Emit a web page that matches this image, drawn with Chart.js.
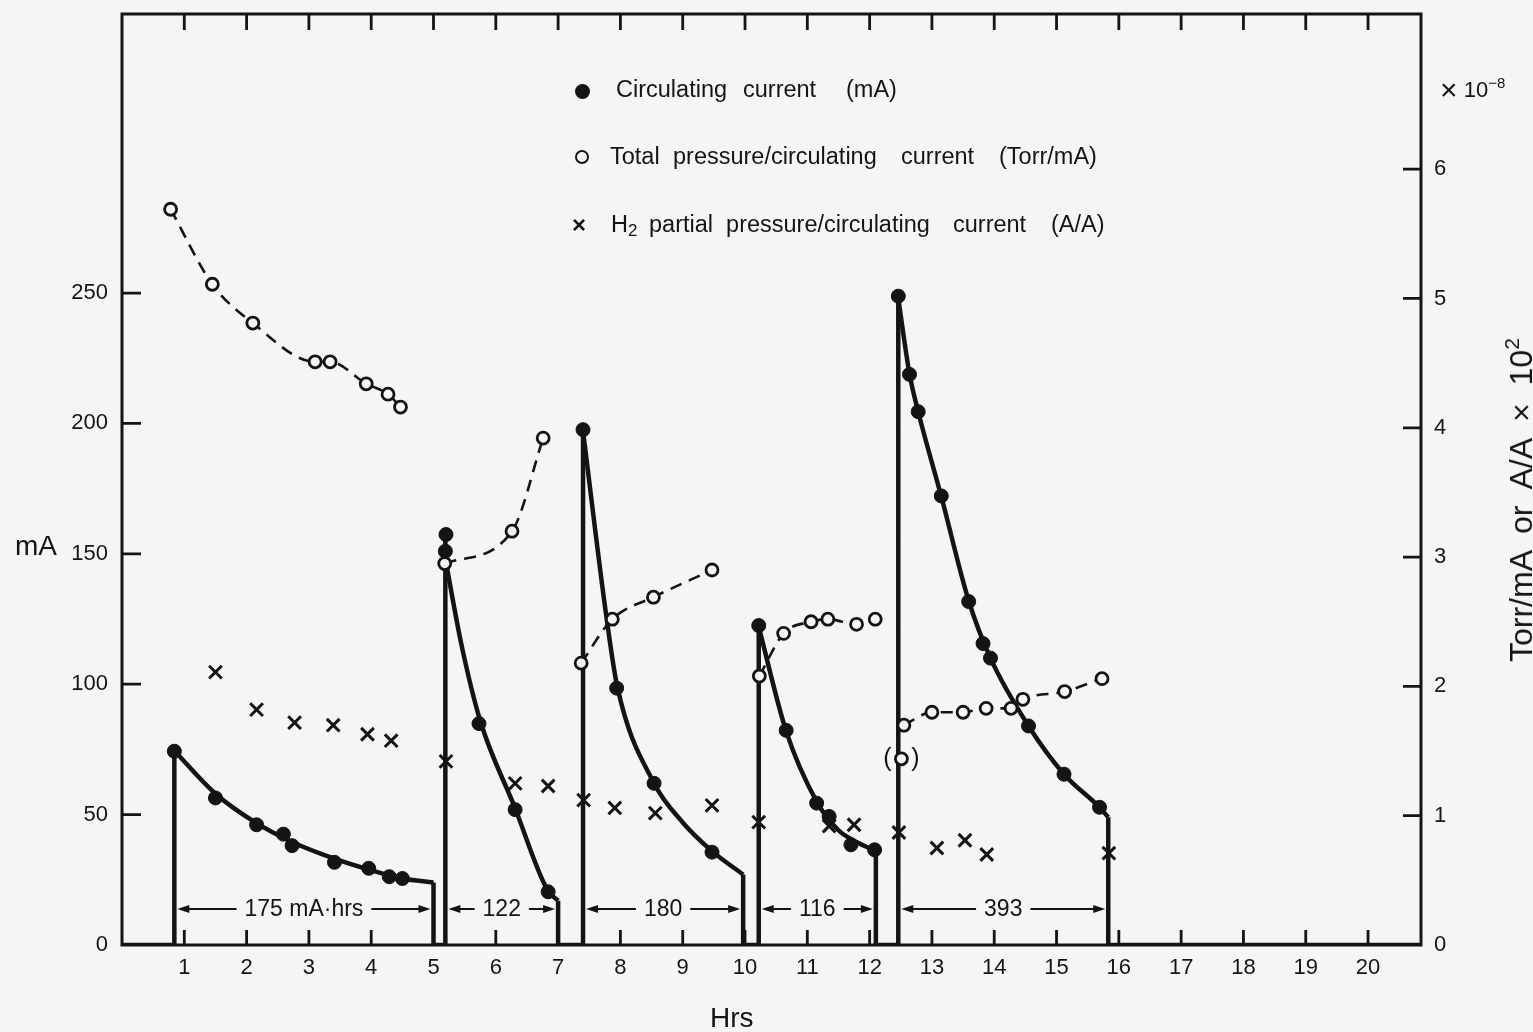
<!DOCTYPE html>
<html>
<head>
<meta charset="utf-8">
<title>Circulating current and pressure vs time</title>
<script src="https://cdn.jsdelivr.net/npm/chart.js@4/dist/chart.umd.min.js"></script>
<style>
	html, body { margin: 0; padding: 0; background: #f4f6f5; }
	#wrap { position: relative; width: 1533px; height: 1032px; overflow: hidden;
		font-family: "Liberation Sans", Arial, sans-serif; color: #141414; }
	#myChart { position: absolute; left: 0; top: 0; }
	.t { position: absolute; white-space: pre; line-height: 1; }
	.leg { font-size: 23.5px; }
	.dot { position: absolute; border-radius: 50%; box-sizing: border-box; }
	sub { font-size: 17px; position: relative; top: 4px; vertical-align: baseline; }
	sup { font-size: 15px; position: relative; top: -9px; vertical-align: baseline; }
</style>
</head>
<body>
<div id="wrap">
	<canvas id="myChart" width="1533" height="1032"></canvas>

	<!-- legend -->
	<div class="dot" style="left:575px;top:84px;width:15px;height:15px;background:#141414"></div>
	<div class="t leg" style="left:616px;top:78px">Circulating</div>
	<div class="t leg" style="left:743px;top:78px">current</div>
	<div class="t leg" style="left:846px;top:78px">(mA)</div>

	<div class="dot" style="left:575px;top:150px;width:14px;height:14px;border:2.5px solid #141414"></div>
	<div class="t leg" style="left:610px;top:145px">Total</div>
	<div class="t leg" style="left:673px;top:145px">pressure/circulating</div>
	<div class="t leg" style="left:901px;top:145px">current</div>
	<div class="t leg" style="left:999px;top:145px">(Torr/mA)</div>

	<div class="t" style="left:572px;top:213px;font-size:24px;font-weight:bold">×</div>
	<div class="t leg" style="left:611px;top:213px">H<sub>2</sub></div>
	<div class="t leg" style="left:649px;top:213px">partial  pressure/circulating</div>
	<div class="t leg" style="left:953px;top:213px">current</div>
	<div class="t leg" style="left:1051px;top:213px">(A/A)</div>

	<!-- axis titles -->
	<div class="t" style="left:15px;top:532px;font-size:28px">mA</div>
	<div class="t" style="left:710px;top:1004px;font-size:28px">Hrs</div>
	<div class="t" style="left:1440px;top:72px;font-size:22px"><span style="font-size:30px;position:relative;top:3px">×</span> 10<sup>−8</sup></div>
	<div class="t" style="left:1521px;top:500px;font-size:32px;transform:translate(-50%,-50%) rotate(-90deg)">Torr/mA  or  A/A  ×  10<sup style="font-size:21px;top:-13px">2</sup></div>
</div>

<script>
var BLACK = "#141414";
var PAPER = "#f4f6f5";
var FONT = "'Liberation Sans', Arial, sans-serif";

// axis ticks
var hourTicks = [1, 2, 3, 4, 5, 6, 7, 8, 9, 10, 11, 12, 13, 14, 15, 16, 17, 18, 19, 20];
var mATicks = [0, 50, 100, 150, 200, 250];
var ratioTicks = [0, 1, 2, 3, 4, 5, 6];

// circulating current, measured points (hrs, mA)
var currentHrs = [0.84, 1.50, 2.16, 2.59, 2.73, 3.41, 3.96, 4.29, 4.50,
	5.20, 5.19, 5.73, 6.31, 6.84,
	7.40, 7.94, 8.54, 9.47,
	10.22, 10.66, 11.15, 11.35, 11.70, 12.08,
	12.46, 12.64, 12.78, 13.15, 13.59, 13.82, 13.94, 14.55, 15.12, 15.69];
var currentMA = [74.3, 56.4, 46.1, 42.5, 38.1, 31.7, 29.4, 26.2, 25.5,
	157.4, 151, 84.9, 51.9, 20.4,
	197.6, 98.5, 62, 35.6,
	122.5, 82.3, 54.4, 49.3, 38.4, 36.5,
	248.8, 218.8, 204.5, 172.2, 131.7, 115.6, 110, 84, 65.5, 52.8];

// fitted decay curves (null = break between runs)
var fitHrs = [0.84, 1.50, 2.14, 2.73, 3.42, 3.95, 4.50, 5.00, null,
	5.19, 5.45, 5.75, 6.30, 6.83, 7.00, null,
	7.40, 7.78, 7.95, 8.54, 9.00, 9.47, 9.97, null,
	10.22, 10.66, 11.15, 11.50, 11.75, 12.10, null,
	12.46, 12.64, 12.78, 13.15, 13.59, 13.94, 14.55, 15.12, 15.69, 15.83];
var fitMA = [74.5, 58, 47, 39.5, 33, 29, 25.5, 24, null,
	148, 115, 86, 53, 21, 17, null,
	197, 125, 99, 62, 47, 36, 27, null,
	122, 82, 55, 44, 40, 36, null,
	248, 219, 204.5, 172, 132, 110, 84, 65.5, 52.8, 49];

// beam on / beam off steps
var stepHrs = [0, 0.84, 0.84, null, 5.00, 5.00, 5.19, 5.19, null, 7.00, 7.00, 7.40, 7.40, null,
	9.97, 9.97, 10.22, 10.22, null, 12.10, 12.10, 12.46, 12.46, null, 15.83, 15.83, 20.85];
var stepMA = [0, 0, 74.5, null, 24, 0, 0, 155, null, 17, 0, 0, 197, null,
	27, 0, 0, 122, null, 36, 0, 0, 248, null, 49, 0, 0];

// total pressure / circulating current (x 10^-8 Torr/mA)
var pressHrs = [0.78, 1.45, 2.10, 3.10, 3.34, 3.92, 4.27, 4.47, null,
	5.18, 6.26, 6.76, null,
	7.37, 7.87, 8.53, 9.47, null,
	10.23, 10.62, 11.06, 11.33, 11.79, 12.09, null,
	12.55, 13.00, 13.50, 13.87, 14.27, 14.46, 15.13, 15.73];
var pressRatio = [5.69, 5.11, 4.81, 4.51, 4.51, 4.34, 4.26, 4.16, null,
	2.95, 3.20, 3.92, null,
	2.18, 2.52, 2.69, 2.90, null,
	2.08, 2.41, 2.50, 2.52, 2.48, 2.52, null,
	1.70, 1.80, 1.80, 1.83, 1.83, 1.90, 1.96, 2.06];
// doubtful reading, shown in brackets
var bracketHrs = [12.51];
var bracketRatio = [1.44];

// H2 partial pressure / circulating current (A/A x 10^2)
var h2Hrs = [1.50, 2.16, 2.77, 3.39, 3.94, 4.32, 5.20, 6.31, 6.84, 7.41, 7.91, 8.56, 9.47,
	10.22, 11.35, 11.75, 12.47, 13.08, 13.53, 13.88, 15.84];
var h2Ratio = [2.11, 1.82, 1.72, 1.70, 1.63, 1.58, 1.42, 1.25, 1.23, 1.12, 1.06, 1.02, 1.08,
	0.95, 0.92, 0.93, 0.87, 0.75, 0.81, 0.70, 0.71];

// integrated charge per run
var spanStart = [0.84, 5.19, 7.40, 10.22, 12.46];
var spanEnd = [5.00, 7.00, 9.97, 12.10, 15.83];
var spanLabel = ["175 mA·hrs", "122", "180", "116", "393"];
var spanLevel = 13.8;

function toPoints(xs, ys) {
	return xs.map(function (x, i) {
		return { x: x, y: ys[i] };
	});
}

function setTicks(list) {
	return function (scale) {
		scale.ticks = list.map(function (v) { return { value: v }; });
	};
}

function fixSize(prop, size) {
	return function (scale) {
		scale[prop] = size;
		scale.paddingTop = 0;
		scale.paddingBottom = 0;
		scale.paddingLeft = 0;
		scale.paddingRight = 0;
	};
}

// box, inward tick marks, run spans and the bracketed point
var frame = {
	id: "frame",
	afterDraw: function (chart) {
		var c = chart.ctx;
		var a = chart.chartArea;
		var sx = chart.scales.x, sy = chart.scales.y, sy2 = chart.scales.y2;
		c.save();
		c.strokeStyle = BLACK;
		c.fillStyle = BLACK;
		c.lineWidth = 3;
		c.strokeRect(a.left, a.top, a.right - a.left, a.bottom - a.top);

		c.lineWidth = 2.8;
		c.beginPath();
		sx.ticks.forEach(function (t) {
			var p = sx.getPixelForValue(t.value);
			c.moveTo(p, a.bottom);
			c.lineTo(p, a.bottom - 15);
			c.moveTo(p, a.top);
			c.lineTo(p, a.top + 16);
		});
		sy.ticks.forEach(function (t) {
			if (t.value === 0) return;
			var p = sy.getPixelForValue(t.value);
			c.moveTo(a.left, p);
			c.lineTo(a.left + 19, p);
		});
		sy2.ticks.forEach(function (t) {
			if (t.value === 0) return;
			var p = sy2.getPixelForValue(t.value);
			c.moveTo(a.right, p);
			c.lineTo(a.right - 18, p);
		});
		c.stroke();

		// arrows
		var ya = sy.getPixelForValue(spanLevel);
		c.font = "23px " + FONT;
		c.textAlign = "center";
		c.textBaseline = "middle";
		c.lineWidth = 2;
		spanLabel.forEach(function (lab, i) {
			var x0 = sx.getPixelForValue(spanStart[i]) + 3;
			var x1 = sx.getPixelForValue(spanEnd[i]) - 3;
			var mid = (x0 + x1) / 2;
			var w = c.measureText(lab).width / 2 + 8;
			c.beginPath();
			c.moveTo(x0 + 8, ya);
			c.lineTo(mid - w, ya);
			c.moveTo(mid + w, ya);
			c.lineTo(x1 - 8, ya);
			c.stroke();
			c.beginPath();
			c.moveTo(x0, ya);
			c.lineTo(x0 + 12, ya - 4);
			c.lineTo(x0 + 12, ya + 4);
			c.closePath();
			c.moveTo(x1, ya);
			c.lineTo(x1 - 12, ya - 4);
			c.lineTo(x1 - 12, ya + 4);
			c.closePath();
			c.fill();
			c.fillText(lab, mid, ya + 1);
		});

		// brackets
		c.font = "25px " + FONT;
		bracketHrs.forEach(function (h, i) {
			var bx = sx.getPixelForValue(h);
			var by = sy2.getPixelForValue(bracketRatio[i]);
			c.fillText("(", bx - 14, by);
			c.fillText(")", bx + 14, by);
		});
		c.restore();
	},
};

var ctx = document.getElementById("myChart").getContext("2d");

var tickFont = { family: FONT, size: 22 };

var graphData = {
	type: "line",
	data: {
		datasets: [
			{
				label: "H2 partial pressure/circulating current (A/A)",
				data: toPoints(h2Hrs, h2Ratio),
				yAxisID: "y2",
				showLine: false,
				pointStyle: "crossRot",
				pointRadius: 9,
				pointBorderWidth: 3,
				pointBorderColor: BLACK,
				borderColor: BLACK,
				order: 1,
			},
			{
				label: "Total pressure/circulating current (Torr/mA)",
				data: toPoints(pressHrs, pressRatio),
				yAxisID: "y2",
				borderColor: BLACK,
				borderWidth: 2.6,
				borderDash: [12, 8],
				cubicInterpolationMode: "monotone",
				pointRadius: 6,
				pointBorderWidth: 2.8,
				pointBorderColor: BLACK,
				pointBackgroundColor: PAPER,
				order: 2,
			},
			{
				label: "bracketed",
				data: toPoints(bracketHrs, bracketRatio),
				yAxisID: "y2",
				showLine: false,
				pointRadius: 6,
				pointBorderWidth: 2.8,
				pointBorderColor: BLACK,
				pointBackgroundColor: PAPER,
				order: 2,
			},
			{
				label: "Circulating current (mA)",
				data: toPoints(currentHrs, currentMA),
				yAxisID: "y",
				showLine: false,
				pointRadius: 7,
				pointBorderWidth: 1,
				pointBorderColor: BLACK,
				pointBackgroundColor: BLACK,
				order: 3,
			},
			{
				label: "fit",
				data: toPoints(fitHrs, fitMA),
				yAxisID: "y",
				borderColor: BLACK,
				borderWidth: 4.5,
				pointRadius: 0,
				cubicInterpolationMode: "monotone",
				order: 4,
			},
			{
				label: "steps",
				data: toPoints(stepHrs, stepMA),
				yAxisID: "y",
				borderColor: BLACK,
				borderWidth: 4.5,
				pointRadius: 0,
				tension: 0,
				order: 5,
			},
		],
	},
	options: {
		responsive: false,
		animation: false,
		events: [],
		layout: { padding: { top: 14, left: 0, right: 0, bottom: 0 } },
		plugins: { legend: { display: false }, tooltip: { enabled: false } },
		scales: {
			x: {
				type: "linear",
				position: "bottom",
				min: 0,
				max: 20.85,
				afterBuildTicks: setTicks(hourTicks),
				afterFit: fixSize("height", 87),
				grid: { display: false, drawTicks: false },
				border: { display: false },
				ticks: { font: tickFont, color: BLACK, padding: 10, maxRotation: 0, autoSkip: false },
			},
			y: {
				type: "linear",
				position: "left",
				min: 0,
				max: 357,
				afterBuildTicks: setTicks(mATicks),
				afterFit: fixSize("width", 122),
				grid: { display: false, drawTicks: false },
				border: { display: false },
				ticks: { font: tickFont, color: BLACK, padding: 14 },
			},
			y2: {
				type: "linear",
				position: "right",
				min: 0,
				max: 7.2,
				afterBuildTicks: setTicks(ratioTicks),
				afterFit: fixSize("width", 112),
				grid: { display: false, drawTicks: false },
				border: { display: false },
				ticks: { font: tickFont, color: BLACK, padding: 13 },
			},
		},
	},
	plugins: [frame],
};

var myChart = new Chart(ctx, graphData);
</script>
</body>
</html>
